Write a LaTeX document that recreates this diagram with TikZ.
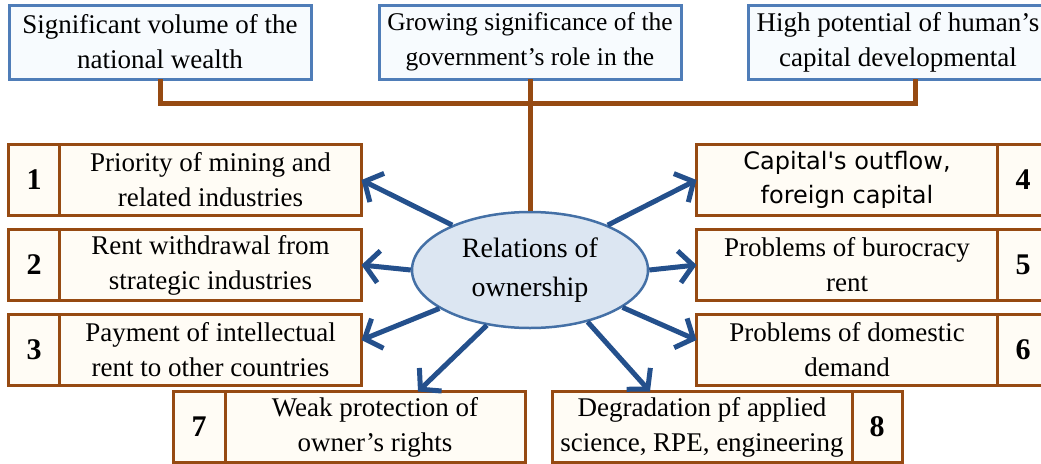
\documentclass[tikz,border=0pt]{standalone}
\usepackage{fontspec}
\setmainfont{Liberation Serif}
\newfontfamily\boxsans{DejaVu Sans}
\usepackage{tikz}
\usetikzlibrary{arrows.meta, positioning, shapes.geometric}
\definecolor{topblue}{HTML}{4F7DB8}
\definecolor{topfill}{HTML}{F7FBFE}
\definecolor{brownline}{HTML}{964A12}
\definecolor{creamfill}{HTML}{FFFCF5}
\definecolor{ovalfill}{HTML}{DCE6F2}
\definecolor{ovalline}{HTML}{4470A6}
\definecolor{arrowblue}{HTML}{24508C}

\begin{document}
\begin{tikzpicture}[x=1pt, y=-1pt,
  topbox/.style={draw=topblue, fill=topfill, line width=3pt, outer sep=0pt, inner sep=0pt,
    minimum height=74pt, align=center, font=\fontsize{27}{35}\selectfont},
  numcell/.style={draw=brownline, fill=creamfill, line width=3pt, outer sep=0pt, inner sep=0pt,
    minimum height=71pt, minimum width=51pt, font=\fontsize{30}{32}\selectfont\bfseries},
  textcell/.style={draw=brownline, fill=creamfill, line width=3pt, outer sep=0pt, inner sep=0pt,
    minimum height=71pt, align=center, font=\fontsize{27}{35}\selectfont},
  bus/.style={draw=brownline, line width=5pt},
  ray/.style={draw=arrowblue, line width=5pt, -{Straight Barb[length=14pt, width=32pt]}}]
  \useasboundingbox (0,0) rectangle (1041,463);

  % three sources on top
  \node[topbox, minimum width=302pt] (wealth) at (160,42) {Significant volume of the\\national wealth};
  \node[topbox, minimum width=302pt, font=\fontsize{25.5}{35}\selectfont] (govt) at (530,42) {Growing significance of the\\government's role in the};
  \node[topbox, minimum width=300pt] (human) at (898,42) {High potential of human's\\capital developmental};

  \node[ellipse, draw=ovalline, fill=ovalfill, line width=2.5pt, minimum width=236pt, minimum height=116pt,
    inner sep=0pt, align=center, font=\fontsize{28}{39}\selectfont] (rel) at (530,270) {Relations of\\ownership};

  \coordinate (hub) at (530,103);
  \draw[bus] (wealth.south) |- ([xshift=17pt]human.south |- hub) -- ([xshift=17pt]human.south);
  \draw[bus] (govt.south) -- (rel.north);

  % left column
  \node[numcell] (n1) at (34,180) {1};
  \node[textcell, minimum width=302pt, right=0pt of n1] (t1) {Priority of mining and\\related industries};
  \node[numcell] (n2) at (34,265) {2};
  \node[textcell, minimum width=302pt, right=0pt of n2] (t2) {Rent withdrawal from\\strategic industries};
  \node[numcell] (n3) at (34,350) {3};
  \node[textcell, minimum width=302pt, right=0pt of n3] (t3) {Payment of intellectual\\rent to other countries};

  % right column
  \node[textcell, minimum width=301pt, font=\fontsize{24}{34}\boxsans] (t4) at (847,180) {Capital's outflow,\\foreign capital};
  \node[numcell, right=0pt of t4] (n4) {4};
  \node[textcell, minimum width=301pt] (t5) at (847,265) {Problems of burocracy\\rent};
  \node[numcell, right=0pt of t5] (n5) {5};
  \node[textcell, minimum width=301pt] (t6) at (847,350) {Problems of domestic\\demand};
  \node[numcell, right=0pt of t6] (n6) {6};

  % bottom row
  \node[numcell, minimum width=52pt] (n7) at (199,427) {7};
  \node[textcell, minimum width=300pt, right=0pt of n7] (t7) {Weak protection of\\owner's rights};
  \node[textcell, minimum width=300pt] (t8) at (702,427) {Degradation pf applied\\science, RPE, engineering};
  \node[numcell, minimum width=50pt, right=0pt of t8] (n8) {8};

  \draw[ray] (rel.150) -- (t1.east);
  \draw[ray] (rel.west) -- (t2.east);
  \draw[ray] (rel.203) -- ([yshift=10pt]t3.east);
  \draw[ray] (rel.30) -- (t4.west);
  \draw[ray] (rel.east) -- (t5.west);
  \draw[ray] (rel.-22) -- ([yshift=10pt]t6.west);
  \draw[ray] (rel.232) -- ([xshift=43pt]t7.north);
  \draw[ray] (rel.-42) -- ([xshift=-52pt]t8.north);
\end{tikzpicture}
\end{document}
